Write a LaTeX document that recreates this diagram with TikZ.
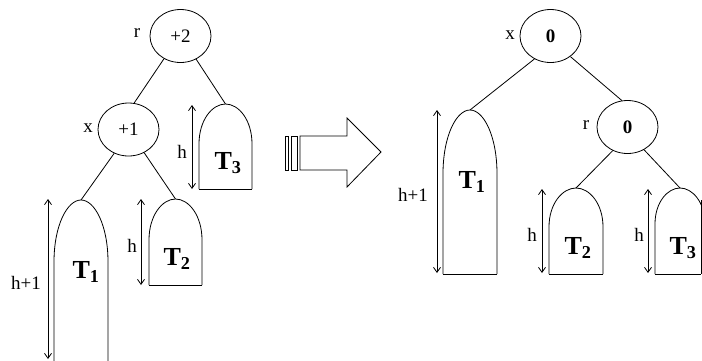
\documentclass[tikz,border=0pt]{standalone}
\usepackage{fontspec}
\setmainfont{Liberation Serif}
\usetikzlibrary{shapes.geometric,arrows.meta}
\newcommand\subtree[6]{% name, left, right, top, shoulder, bottom
  \coordinate (#1) at ({(#2+#3)/2},#4);
  \draw[treeline] (#2,#6) -- (#2,#5)
    .. controls (#2,{#5-0.6*(#5-#4)}) and ({(#2+#3)/2-0.5*(#3-#2)/2},#4) .. (#1)
    .. controls ({(#2+#3)/2+0.5*(#3-#2)/2},#4) and (#3,{#5-0.6*(#5-#4)}) .. (#3,#5)
    -- (#3,#6);
}
\begin{document}
\begin{tikzpicture}[x=1pt,y=-1pt,
  treeline/.style={line width=0.8pt},
  bal/.style={ellipse,draw,line width=0.8pt,minimum width=61pt,minimum height=53pt,inner sep=0pt,font=\fontsize{19}{22}\selectfont},
  lab/.style={inner sep=0pt,font=\fontsize{19}{22}\selectfont},
  tlab/.style={inner sep=0pt,font=\fontsize{26}{30}\selectfont\bfseries},
  edge/.style={line width=0.8pt},
  harrow/.style={line width=0.8pt,{Straight Barb[length=5pt,width=7pt]}-{Straight Barb[length=5pt,width=7pt]}}]
\useasboundingbox (0,0) rectangle (702,360);
\fill[white] (0,0) rectangle (702,360);

% ---------- left tree ----------
\node[bal] (lr) at (180.5,36) {+2};
\node[bal] (lx) at (128.5,129.5) {+1};
\node[lab] (lrl) at (137,33) {r};
\node[lab] (lxl) at (88,128) {x};

\subtree{lt1}{54}{108}{200}{262}{362}
\subtree{lt2}{149}{202}{199}{240}{285}
\subtree{lt3}{199}{252}{104}{144}{189}
\draw[treeline] (149,285) -- (202,285);
\draw[treeline] (199,189) -- (252,189);

\draw[edge] (lr.234) -- (lx.78);
\draw[edge] (lr.304) -- (lt3);
\draw[edge] (lx.239) -- (lt1);
\draw[edge] (lx.304) -- (lt2);

\node[tlab] (lT1) at (86,272) {T\textsubscript{1}};
\node[tlab] (lT2) at (177,259) {T\textsubscript{2}};
\node[tlab] (lT3) at (228,163) {T\textsubscript{3}};

\coordinate (la1t) at (48,199);
\coordinate (la1b) at (48,359);
\coordinate (la2t) at (141,199);
\coordinate (la2b) at (141,285);
\coordinate (la3t) at (192,105);
\coordinate (la3b) at (192,189);
\draw[harrow] (la1t) -- (la1b);
\draw[harrow] (la2t) -- (la2b);
\draw[harrow] (la3t) -- (la3b);
\node[lab] (lh1) at (26,283) {h+1};
\node[lab] (lh2) at (132,246) {h};
\node[lab] (lh3) at (182,152) {h};

% ---------- big arrow ----------
\draw[line width=0.8pt] (285,136) rectangle (288,170);
\draw[line width=0.8pt] (291,136) rectangle (297,170);
\draw[line width=0.8pt] (300,136) -- (347,136) -- (347,118) -- (381,152)
  -- (347,187) -- (347,170) -- (300,170) -- cycle;

% ---------- right tree ----------
\node[bal,font=\fontsize{19}{22}\selectfont\bfseries] (rx) at (550.5,36) {0};
\node[bal,font=\fontsize{19}{22}\selectfont\bfseries] (rr) at (627.5,127) {0};
\node[lab] (rxl) at (510,35) {x};
\node[lab] (rrl) at (586,125) {r};

\subtree{rt1}{443}{497}{110}{174}{274}
\subtree{rt2}{549}{603}{188}{227}{274}
\subtree{rt3}{655}{705}{188}{224}{274}
\draw[treeline] (443,274) -- (497,274);
\draw[treeline] (549,274) -- (603,274);
\draw[treeline] (655,274) -- (701,274);
\draw[treeline] (701,200) -- (701,274);

\draw[edge] (rx.235) -- (rt1);
\draw[edge] (rx.314) -- (rr.102);
\draw[edge] (rr.238) -- (rt2);
\draw[edge] (rr.306) -- (rt3);

\node[tlab] (rT1) at (472,182) {T\textsubscript{1}};
\node[tlab] (rT2) at (578,248) {T\textsubscript{2}};
\node[tlab] (rT3) at (683,248) {T\textsubscript{3}};

\coordinate (ra1t) at (437,110);
\coordinate (ra1b) at (437,273);
\coordinate (ra2t) at (542,189);
\coordinate (ra2b) at (542,273);
\coordinate (ra3t) at (648,189);
\coordinate (ra3b) at (648,273);
\draw[harrow] (ra1t) -- (ra1b);
\draw[harrow] (ra2t) -- (ra2b);
\draw[harrow] (ra3t) -- (ra3b);
\node[lab] (rh1) at (413,195) {h+1};
\node[lab] (rh2) at (532,235) {h};
\node[lab] (rh3) at (639,235) {h};
\end{tikzpicture}
\end{document}
